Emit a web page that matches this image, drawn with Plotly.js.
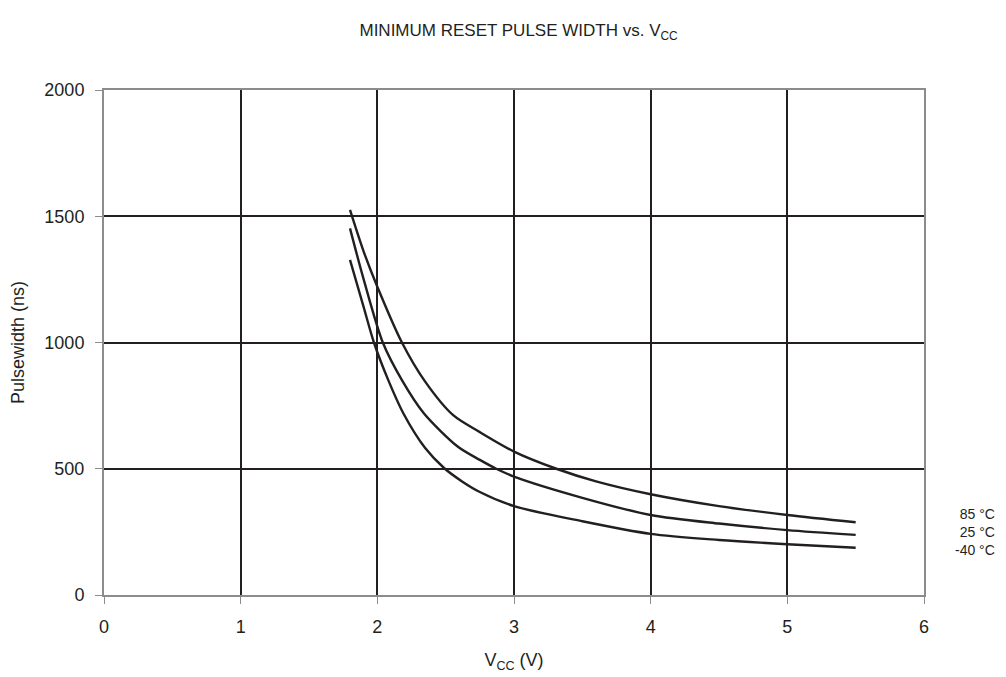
<!DOCTYPE html>
<html>
<head>
<meta charset="utf-8">
<script src="https://cdn.plot.ly/plotly-3.0.1.min.js"></script>
<style>html,body{margin:0;padding:0;background:#fff;}#chart{width:1006px;height:677px;}</style>
</head>
<body>
<div id="chart"></div>
<script>
const x85 = [1.8, 1.9, 2.0, 2.18, 2.35, 2.555, 2.75, 3.0, 3.31, 3.6, 4.0, 4.5, 5.0, 5.5];
const y85 = [1525, 1360, 1221, 1000, 845, 712, 645, 568, 500, 450, 399, 352, 317, 288];
const x25 = [1.8, 1.9, 2.04, 2.18, 2.34, 2.59, 2.75, 2.87, 3.0, 3.5, 4.0, 4.5, 5.0, 5.5];
const y25 = [1452, 1250, 1000, 851, 720, 587, 535, 500, 469, 385, 317, 283, 257, 238];
const xm40 = [1.8, 1.9, 1.975, 2.08, 2.19, 2.35, 2.49, 2.62, 2.75, 3.0, 3.5, 4.0, 4.5, 5.0, 5.5];
const ym40 = [1327, 1140, 1000, 851, 720, 582, 502, 450, 408, 352, 292, 242, 218, 201, 187];
const seriesLabels = ["85 °C", "25 °C", "-40 °C"];
const xTicks = [0, 1, 2, 3, 4, 5, 6];
const yTicks = [0, 500, 1000, 1500, 2000];

const font = "Liberation Sans, Arial, sans-serif";
const ink = "#231f20";
const mk = (x, y, name) => ({x: x, y: y, name: name, type: "scatter", mode: "lines",
  line: {color: ink, width: 2.4, shape: "spline", smoothing: 0.8}, showlegend: false});
const data = [mk(x85, y85, seriesLabels[0]), mk(x25, y25, seriesLabels[1]), mk(xm40, ym40, seriesLabels[2])];

const layout = {
  width: 1006, height: 677,
  margin: {l: 104, r: 82, t: 90, b: 82},
  paper_bgcolor: "#fff", plot_bgcolor: "#fff",
  font: {family: font, color: ink},
  title: {text: "MINIMUM RESET PULSE WIDTH vs. V<sub>CC</sub>", font: {size: 17, color: ink},
          x: 0.5155, xanchor: "center", y: 0.955, yanchor: "middle"},
  xaxis: {
    range: [0, 6], tickvals: xTicks, ticktext: xTicks.map(String),
    showgrid: true, gridcolor: ink, gridwidth: 2,
    showline: true, linecolor: "#8c8c8c", linewidth: 2, mirror: true,
    ticks: "outside", ticklen: 7, tickcolor: "#8c8c8c", tickwidth: 1,
    zeroline: false, tickfont: {size: 18, color: ink}, ticklabelstandoff: 7,
    title: {text: "V<sub>CC</sub> (V)", font: {size: 18, color: ink}, standoff: 18}
  },
  yaxis: {
    range: [0, 2000], tickvals: yTicks, ticktext: yTicks.map(String),
    showgrid: true, gridcolor: ink, gridwidth: 2,
    showline: true, linecolor: "#8c8c8c", linewidth: 2, mirror: true,
    ticks: "outside", ticklen: 7, tickcolor: "#8c8c8c", tickwidth: 1,
    zeroline: false, tickfont: {size: 18, color: ink}, ticklabelstandoff: 7,
    title: {text: "Pulsewidth (ns)", font: {size: 18, color: ink}, standoff: 15}
  },
  annotations: [{
    xref: "paper", yref: "paper", x: 1.0876, y: 0.1248, xanchor: "right", yanchor: "middle",
    showarrow: false, align: "right", borderpad: 0,
    text: seriesLabels.join("<br>"), font: {size: 14, color: ink}
  }]
};
Plotly.newPlot("chart", data, layout, {displayModeBar: false, staticPlot: true});
</script>
</body>
</html>
